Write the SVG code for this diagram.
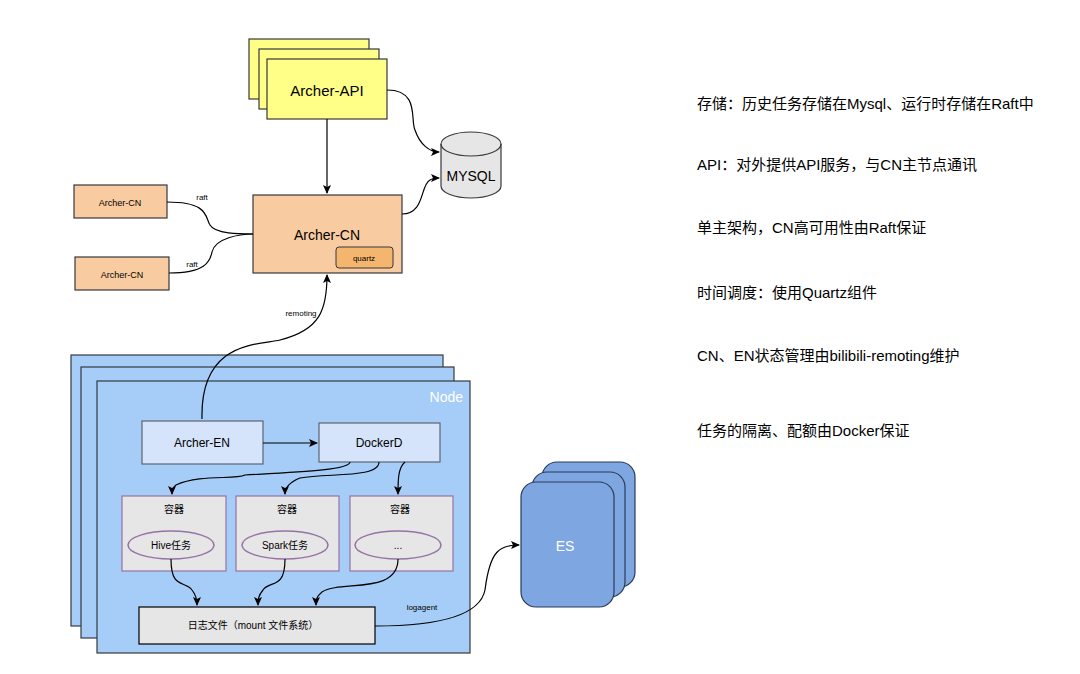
<svg xmlns="http://www.w3.org/2000/svg" width="1080" height="674" viewBox="0 0 1080 674">
<style>
text{font-family:"Liberation Sans","Noto Sans CJK SC",sans-serif;fill:#000}
.api{fill:#ffff88;stroke:#36393d;stroke-width:1.2}
.cn{fill:#f8cba1;stroke:#36393d;stroke-width:1.2}
.node{fill:#a5cdf8;stroke:#36393d;stroke-width:1.2}
.inner{fill:#d5e4fa;stroke:#5c6670;stroke-width:1.2}
.ctr{fill:#e6e6e6;stroke:#9673a6;stroke-width:1.2}
.ell{fill:#e6e6e6;stroke:#9673a6;stroke-width:1.5}
.es{fill:#7ea6e0;stroke:#2a3a5a;stroke-width:1.2}
.c{fill:none;stroke:#000;stroke-width:1.2}
.note{font-size:15px}
</style>
<defs><marker id="a" markerWidth="10" markerHeight="10" refX="8" refY="5" orient="auto" markerUnits="userSpaceOnUse"><path d="M0,1 L9,5 L0,9 L2,5 Z" fill="#000"/></marker></defs>
<g id="api"><rect class="api" x="249" y="39" width="120" height="60"/><rect class="api" x="259" y="49" width="120" height="60"/><rect class="api" x="267" y="59" width="120" height="60"/><text x="327" y="96" font-size="15" text-anchor="middle">Archer-API</text></g>
<g id="mysql"><path d="M441,144 A30,12 0 0 1 501,144 L501,186 A30,12 0 0 1 441,186 Z" fill="#e6e6e6" stroke="#36393d" stroke-width="1.2"/><path d="M441,144 A30,12 0 0 0 501,144" fill="none" stroke="#36393d" stroke-width="1.2"/><text x="471" y="181" font-size="14" text-anchor="middle">MYSQL</text></g>
<g id="cn-main"><rect class="cn" x="253" y="195" width="149" height="78"/><text x="327" y="240" font-size="14" text-anchor="middle">Archer-CN</text></g>
<g id="quartz"><rect x="336" y="247" width="57" height="21" rx="3" fill="#f4b56f" stroke="#36393d"/><text x="364" y="261" font-size="8" text-anchor="middle">quartz</text></g>
<g id="cn1"><rect class="cn" x="74" y="185" width="93" height="33"/><text x="120" y="206" font-size="9" text-anchor="middle">Archer-CN</text></g>
<g id="cn2"><rect class="cn" x="75" y="257" width="94" height="33"/><text x="122" y="278" font-size="9" text-anchor="middle">Archer-CN</text></g>
<g id="nodes"><rect class="node" x="71" y="355" width="372" height="271"/><rect class="node" x="81" y="367" width="373" height="271"/><rect class="node" x="97" y="381" width="373" height="272"/><text x="463" y="402" font-size="14" fill="#fff" style="fill:#fff" text-anchor="end">Node</text></g>
<g id="en"><rect class="inner" x="142" y="421" width="121" height="43"/><text x="202" y="447" font-size="12" text-anchor="middle">Archer-EN</text></g>
<g id="dockerd"><rect class="inner" x="319" y="423" width="121" height="39"/><text x="379" y="447" font-size="12" text-anchor="middle">DockerD</text></g>
<g id="c1"><rect class="ctr" x="122" y="496" width="104" height="75"/><text x="174" y="513" font-size="10" text-anchor="middle">容器</text><ellipse class="ell" cx="171" cy="545" rx="43" ry="14"/><text x="171" y="549" font-size="10" text-anchor="middle">Hive任务</text></g>
<g id="c2"><rect class="ctr" x="236" y="496" width="103" height="75"/><text x="287" y="513" font-size="10" text-anchor="middle">容器</text><ellipse class="ell" cx="285" cy="545" rx="43" ry="14"/><text x="285" y="549" font-size="10" text-anchor="middle">Spark任务</text></g>
<g id="c3"><rect class="ctr" x="350" y="496" width="103" height="75"/><text x="400" y="513" font-size="10" text-anchor="middle">容器</text><ellipse class="ell" cx="398" cy="545" rx="43" ry="14"/><text x="398" y="549" font-size="10" text-anchor="middle">...</text></g>
<g id="log"><rect x="139" y="607" width="236" height="37" fill="#e6e6e6" stroke="#000" stroke-width="1.2"/><text x="253" y="629" font-size="10" text-anchor="middle">日志文件（mount 文件系统）</text></g>
<g id="es"><rect class="es" x="542" y="462" width="93" height="125" rx="15"/><rect class="es" x="532" y="472" width="93" height="125" rx="15"/><rect class="es" x="521" y="482" width="93" height="125" rx="15"/><text x="565" y="551" font-size="14" fill="#fff" style="fill:#fff" text-anchor="middle">ES</text></g>
<g id="connectors">
<path class="c" d="M327,119 V193" marker-end="url(#a)"/>
<path class="c" d="M387,90 C420,90 410,120 415,130 C420,145 430,152 439,152" marker-end="url(#a)"/>
<path class="c" d="M402,214 C425,214 420,185 430,180 C433,178 436,178 439,178" marker-end="url(#a)"/>
<path class="c" d="M167,202 C210,202 205,218 210,225 C215,234 240,234 253,234"/>
<path class="c" d="M169,273 C205,273 210,262 212,252 C215,238 240,234 253,234"/>
<path class="c" d="M202,419 C200,340 260,345 280,340 C320,330 327,310 327,275" marker-end="url(#a)"/>
<path class="c" d="M263,443 H317" marker-end="url(#a)"/>
<path class="c" d="M350,462 C350,470 300,472 245,475 C235,480 200,474 176,485 C173,487 172,490 172,494" marker-end="url(#a)"/>
<path class="c" d="M379,462 C379,478 330,473 300,478 C290,482 285,487 285,494" marker-end="url(#a)"/>
<path class="c" d="M405,462 C398,468 398,480 398,494" marker-end="url(#a)"/>
<path class="c" d="M171,559 C171,590 185,580 192,590 C196,595 197,600 197,605" marker-end="url(#a)"/>
<path class="c" d="M285,559 C285,590 270,580 263,590 C258,596 258,600 258,605" marker-end="url(#a)"/>
<path class="c" d="M398,559 C398,595 340,580 322,592 C316,597 316,600 316,605" marker-end="url(#a)"/>
<path class="c" d="M375,626 C440,626 480,615 485,590 C490,550 500,545 519,545" marker-end="url(#a)"/>
</g>
<g id="labels" font-size="8">
<text x="202" y="200" font-size="8" text-anchor="middle">raft</text>
<text x="192" y="267" font-size="8" text-anchor="middle">raft</text>
<text x="301" y="316" font-size="8" text-anchor="middle">remoting</text>
<text x="422" y="610" font-size="8" text-anchor="middle">logagent</text>
</g>
<g id="notes">
<text class="note" x="697" y="109">存储：历史任务存储在Mysql、运行时存储在Raft中</text>
<text class="note" x="697" y="170">API：对外提供API服务，与CN主节点通讯</text>
<text class="note" x="697" y="233">单主架构，CN高可用性由Raft保证</text>
<text class="note" x="697" y="298">时间调度：使用Quartz组件</text>
<text class="note" x="697" y="361">CN、EN状态管理由bilibili-remoting维护</text>
<text class="note" x="697" y="436">任务的隔离、配额由Docker保证</text>
</g>
</svg>
